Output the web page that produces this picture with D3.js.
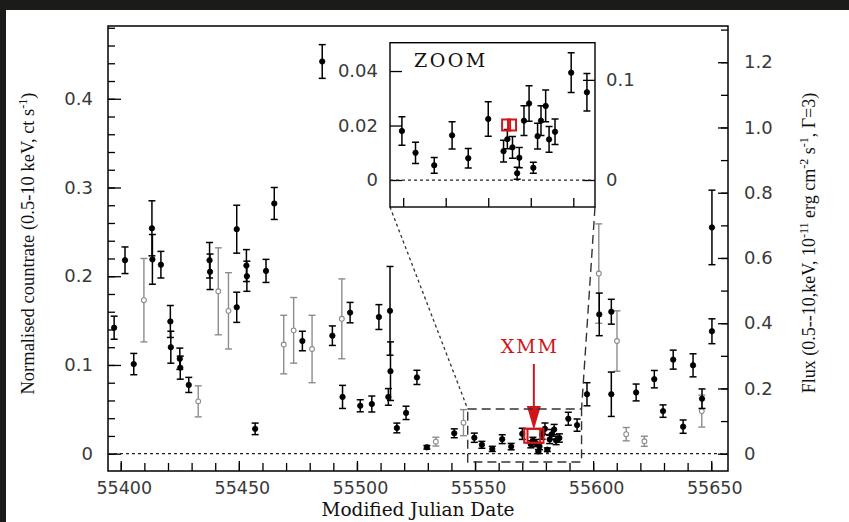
<!DOCTYPE html>
<html>
<head>
<meta charset="utf-8">
<script src="https://cdn.jsdelivr.net/npm/d3@7"></script>
<style>
  html, body { margin: 0; padding: 0; background: #fff; }
</style>
</head>
<body>
<div id="my_dataviz"></div>
<script>
// light curve, black = detections, grey = second instrument
const blackMjd = [55397.2, 55401.8, 55405.5, 55413.2, 55413.4, 55417.0, 55421.0, 55421.2, 55425.0, 55425.2,
  55428.8, 55437.6, 55437.8, 55449.1, 55449.1, 55453.2, 55453.4, 55456.9, 55461.5, 55465.0,
  55476.9, 55485.3, 55489.6, 55493.9, 55497.1, 55501.4, 55506.3, 55509.3, 55513.3, 55514.0,
  55514.2, 55516.9, 55520.8, 55525.4, 55529.6, 55541.2, 55549.7, 55552.9, 55557.3, 55561.5,
  55565.3, 55570.0, 55573.6, 55574.5, 55575.7, 55576.8, 55577.3, 55578.4, 55579.6, 55580.6,
  55581.6, 55582.4, 55583.5, 55584.3, 55585.7, 55589.5, 55593.2, 55597.4, 55602.6, 55607.7,
  55607.7, 55618.2, 55625.9, 55629.6, 55633.9, 55638.1, 55642.3, 55646.1, 55650.3, 55650.3];
const blackRate = [0.142, 0.218, 0.101, 0.254, 0.219, 0.213, 0.149, 0.120, 0.107, 0.097,
  0.0775, 0.218, 0.205, 0.253, 0.165, 0.212, 0.200, 0.028, 0.206, 0.282,
  0.127, 0.442, 0.133, 0.064, 0.159, 0.054, 0.056, 0.154, 0.064, 0.161,
  0.093, 0.029, 0.046, 0.086, 0.0072, 0.023, 0.0180, 0.0100, 0.0054, 0.0164,
  0.0080, 0.0224, 0.0106, 0.0150, 0.0120, 0.0025, 0.0082, 0.0218, 0.0281, 0.0045,
  0.0161, 0.0218, 0.0272, 0.0149, 0.0177, 0.0394, 0.0322, 0.067, 0.157, 0.160,
  0.067, 0.069, 0.084, 0.048, 0.106, 0.0305, 0.0996, 0.062, 0.138, 0.255];
const blackErr = [0.013, 0.015, 0.012, 0.031, 0.028, 0.015, 0.018, 0.018, 0.012, 0.013,
  0.0085, 0.020, 0.020, 0.027, 0.017, 0.018, 0.017, 0.0065, 0.013, 0.018,
  0.011, 0.019, 0.011, 0.013, 0.0115, 0.0068, 0.009, 0.014, 0.0094, 0.050,
  0.033, 0.0055, 0.0075, 0.008, 0.002, 0.005, 0.0052, 0.0039, 0.0029, 0.005,
  0.0036, 0.0063, 0.004, 0.0035, 0.004, 0.0022, 0.0037, 0.0055, 0.0065, 0.002,
  0.0047, 0.0055, 0.0058, 0.0047, 0.0047, 0.0073, 0.0069, 0.013, 0.024, 0.014,
  0.025, 0.0095, 0.0098, 0.007, 0.0107, 0.0075, 0.013, 0.011, 0.014, 0.042];

const greyMjd = [55409.8, 55432.8, 55441.3, 55445.6, 55469.0, 55473.2, 55481.0, 55493.6,
  55533.4, 55545.1, 55602.4, 55610.1, 55614.0, 55621.7, 55646.0];
const greyRate = [0.173, 0.059, 0.183, 0.161, 0.123, 0.139, 0.118, 0.152,
  0.0136, 0.035, 0.203, 0.127, 0.022, 0.014, 0.048];
const greyErr = [0.047, 0.0175, 0.049, 0.043, 0.033, 0.037, 0.038, 0.045,
  0.005, 0.0147, 0.056, 0.034, 0.0075, 0.0057, 0.018];

const xmmMjd = [55574.2, 55575.6];
const xmmRate = [0.0202, 0.0202];

const xTicks = [55400, 55450, 55500, 55550, 55600, 55650];
const yTicks = [0, 0.1, 0.2, 0.3, 0.4];
const fluxTicks = [0, 0.2, 0.4, 0.6, 0.8, 1.0, 1.2];
const insetYTicks = [0, 0.02, 0.04];
const insetFluxTicks = [0, 0.1];
const insetXTicks = [55550, 55560, 55570, 55580, 55590];
const fluxPerRate = 2.72;

const black = blackMjd.map(function(d, i) { return {x: d, y: blackRate[i], e: blackErr[i]}; });
const grey = greyMjd.map(function(d, i) { return {x: d, y: greyRate[i], e: greyErr[i]}; });
const xmm = xmmMjd.map(function(d, i) { return {x: d, y: xmmRate[i]}; });

var W = 849, H = 522;
var box = {left: 108, right: 728, top: 26, bottom: 471};
var ibox = {left: 390, right: 595, top: 42.7, bottom: 207};
var red = "#d0161b";
var tickFont = "'DejaVu Sans', sans-serif";
var serif = "'Liberation Serif', 'Times New Roman', serif";
var wideSerif = "'DejaVu Serif', serif";

var svg = d3.select("#my_dataviz").append("svg")
  .attr("width", W).attr("height", H);

svg.append("rect").attr("width", W).attr("height", H).attr("fill", "#fff");
// dark frame of the screenshot
svg.append("rect").attr("x", 0).attr("y", 0).attr("width", W).attr("height", 10).attr("fill", "#1b1b19");
svg.append("rect").attr("x", 0).attr("y", 0).attr("width", 6).attr("height", H).attr("fill", "#1b1b19");

var x = d3.scaleLinear().domain([55394.6, 55657.1]).range([box.left, box.right]);
var y = d3.scaleLinear().domain([-0.0195, 0.482]).range([box.bottom, box.top]);
var yFlux = d3.scaleLinear().domain(y.domain().map(function(v) { return v * fluxPerRate; })).range([box.bottom, box.top]);

function styleAxis(g, size) {
  g.select(".domain").remove();
  g.selectAll("line").attr("stroke", "#000").attr("stroke-width", 1.3);
  g.selectAll("text").attr("font-family", tickFont).attr("font-size", size).attr("fill", "#3a3a3a");
}

// main axes, ticks pointing inwards
svg.append("g").attr("transform", "translate(" + box.left + ",0)")
  .call(d3.axisLeft(y).tickValues(d3.range(0, 0.481, 0.02)).tickFormat("").tickSize(-7).tickSizeOuter(0))
  .call(styleAxis, 18);
svg.append("g").attr("transform", "translate(" + box.left + ",0)")
  .call(d3.axisLeft(y).tickValues(yTicks).tickFormat(function(d) { return d === 0 ? "0" : d3.format(".1f")(d); })
    .tickSize(-13).tickPadding(15).tickSizeOuter(0))
  .call(styleAxis, 18);

svg.append("g").attr("transform", "translate(" + box.right + ",0)")
  .call(d3.axisRight(yFlux).tickValues(d3.range(0, 1.31, 0.1)).tickFormat("").tickSize(-7).tickSizeOuter(0))
  .call(styleAxis, 18);
svg.append("g").attr("transform", "translate(" + box.right + ",0)")
  .call(d3.axisRight(yFlux).tickValues(fluxTicks).tickFormat(function(d) { return d === 0 ? "0" : d3.format(".1f")(d); })
    .tickSize(-10).tickPadding(16).tickSizeOuter(0))
  .call(styleAxis, 18);

svg.append("g").attr("transform", "translate(0," + box.bottom + ")")
  .call(d3.axisBottom(x).tickValues(d3.range(55400, 55651, 10)).tickFormat("").tickSize(-8).tickSizeOuter(0))
  .call(styleAxis, 18);
svg.append("g").attr("transform", "translate(0," + box.bottom + ")")
  .call(d3.axisBottom(x).tickValues(xTicks).tickFormat(d3.format("d")).tickSize(-10).tickPadding(11).tickSizeOuter(0))
  .call(styleAxis, 17.5)
  .selectAll("text").attr("dx", 3);

svg.append("rect")
  .attr("x", box.left).attr("y", box.top)
  .attr("width", box.right - box.left).attr("height", box.bottom - box.top)
  .attr("fill", "none").attr("stroke", "#000").attr("stroke-width", 1.5);

// zero line
svg.append("line")
  .attr("x1", box.left).attr("x2", box.right).attr("y1", y(0)).attr("y2", y(0))
  .attr("stroke", "#222").attr("stroke-width", 1.2).attr("stroke-dasharray", "3,3");

// axis titles
var lt = svg.append("text")
  .attr("transform", "translate(34,243.5) rotate(-90)")
  .attr("text-anchor", "middle").attr("font-family", serif).attr("font-size", 18.5).attr("fill", "#111");
lt.append("tspan").text("Normalised countrate (0.5-10 keV, ct s");
lt.append("tspan").attr("dy", -7).attr("font-size", 12).text("-1");
lt.append("tspan").attr("dy", 7).text(")");

var rt = svg.append("text")
  .attr("transform", "translate(815,243) rotate(-90)")
  .attr("text-anchor", "middle").attr("font-family", serif).attr("font-size", 18).attr("fill", "#111");
rt.append("tspan").text("Flux (0.5--10,keV, 10");
rt.append("tspan").attr("dy", -7).attr("font-size", 12).text("-11");
rt.append("tspan").attr("dy", 7).text(" erg cm");
rt.append("tspan").attr("dy", -7).attr("font-size", 12).text("-2");
rt.append("tspan").attr("dy", 7).text(" s");
rt.append("tspan").attr("dy", -7).attr("font-size", 12).text("-1");
rt.append("tspan").attr("dy", 7).text(", \u0393=3)");

svg.append("text")
  .attr("x", (box.left + box.right) / 2).attr("y", 516)
  .attr("text-anchor", "middle").attr("font-family", wideSerif).attr("font-size", 18.5).attr("fill", "#111")
  .text("Modified Julian Date");

function drawPoints(g, data, xs, ys, color, width, cap, filled, r) {
  var pts = g.append("g").selectAll("g").data(data).enter().append("g");
  pts.append("line")
    .attr("x1", function(d) { return xs(d.x); }).attr("x2", function(d) { return xs(d.x); })
    .attr("y1", function(d) { return ys(d.y - d.e); }).attr("y2", function(d) { return ys(d.y + d.e); })
    .attr("stroke", color).attr("stroke-width", width);
  [-1, 1].forEach(function(s) {
    pts.append("line")
      .attr("x1", function(d) { return xs(d.x) - cap; }).attr("x2", function(d) { return xs(d.x) + cap; })
      .attr("y1", function(d) { return ys(d.y + s * d.e); }).attr("y2", function(d) { return ys(d.y + s * d.e); })
      .attr("stroke", color).attr("stroke-width", width);
  });
  pts.append("circle")
    .attr("cx", function(d) { return xs(d.x); }).attr("cy", function(d) { return ys(d.y); })
    .attr("r", r)
    .attr("fill", filled ? color : "#fff")
    .attr("stroke", color).attr("stroke-width", filled ? 0.8 : 1.1);
}

drawPoints(svg, grey, x, y, "#8c8c8c", 1.4, 3.5, false, 2.4);
drawPoints(svg, black, x, y, "#000", 1.5, 3.5, true, 2.7);

svg.append("g").selectAll("rect").data(xmm).enter().append("rect")
  .attr("x", function(d) { return x(d.x) - 8; }).attr("y", function(d) { return y(d.y) - 7; })
  .attr("width", 16).attr("height", 14)
  .attr("fill", "none").attr("stroke", red).attr("stroke-width", 2);

// XMM label and arrow
var xmmX = x(d3.mean(xmmMjd));
svg.append("text")
  .attr("x", xmmX - 4).attr("y", 353)
  .attr("text-anchor", "middle").attr("font-family", wideSerif).attr("font-size", 19)
  .attr("letter-spacing", 2).attr("fill", red).text("XMM");
svg.append("line")
  .attr("x1", xmmX).attr("x2", xmmX).attr("y1", 364).attr("y2", 410)
  .attr("stroke", red).attr("stroke-width", 2);
svg.append("path")
  .attr("d", "M" + (xmmX - 7) + ",406 L" + (xmmX + 7) + ",406 L" + xmmX + "," + (y(xmmRate[0]) - 6) + " Z")
  .attr("fill", red);

// zoom region box and connectors
var zx0 = 55546.9, zx1 = 55595.1;
svg.append("rect")
  .attr("x", x(zx0)).attr("y", 409)
  .attr("width", x(zx1) - x(zx0)).attr("height", 462 - 409)
  .attr("fill", "none").attr("stroke", "#333").attr("stroke-width", 1.4).attr("stroke-dasharray", "9,5");
svg.append("line")
  .attr("x1", ibox.left).attr("y1", ibox.bottom).attr("x2", x(zx0)).attr("y2", 409)
  .attr("stroke", "#333").attr("stroke-width", 1.3).attr("stroke-dasharray", "3,3");
svg.append("line")
  .attr("x1", ibox.right).attr("y1", ibox.bottom).attr("x2", x(zx1)).attr("y2", 409)
  .attr("stroke", "#333").attr("stroke-width", 1.4).attr("stroke-dasharray", "9,5");

// inset
var xi = d3.scaleLinear().domain([zx0, zx1]).range([ibox.left, ibox.right]);
var yi = d3.scaleLinear().domain([-0.0099, 0.0504]).range([ibox.bottom, ibox.top]);
var yiFlux = d3.scaleLinear().domain(yi.domain().map(function(v) { return v * fluxPerRate; })).range([ibox.bottom, ibox.top]);

svg.append("rect")
  .attr("x", ibox.left).attr("y", ibox.top)
  .attr("width", ibox.right - ibox.left).attr("height", ibox.bottom - ibox.top)
  .attr("fill", "#fff").attr("stroke", "#000").attr("stroke-width", 1.4);

svg.append("g").attr("transform", "translate(" + ibox.left + ",0)")
  .call(d3.axisLeft(yi).tickValues(insetYTicks).tickFormat(function(d) { return d === 0 ? "0" : d3.format(".2f")(d); })
    .tickSize(-12).tickPadding(12).tickSizeOuter(0))
  .call(styleAxis, 18);
svg.append("g").attr("transform", "translate(" + ibox.right + ",0)")
  .call(d3.axisRight(yiFlux).tickValues(insetFluxTicks).tickFormat(function(d) { return d === 0 ? "0" : d3.format(".1f")(d); })
    .tickSize(-12).tickPadding(11).tickSizeOuter(0))
  .call(styleAxis, 18);
svg.append("g").attr("transform", "translate(0," + ibox.bottom + ")")
  .call(d3.axisBottom(xi).tickValues(insetXTicks).tickFormat("").tickSize(-9).tickSizeOuter(0))
  .call(styleAxis, 18);

svg.append("line")
  .attr("x1", ibox.left).attr("x2", ibox.right).attr("y1", yi(0)).attr("y2", yi(0))
  .attr("stroke", "#222").attr("stroke-width", 1.2).attr("stroke-dasharray", "3,3");

svg.append("defs").append("clipPath").attr("id", "insetClip").append("rect")
  .attr("x", ibox.left).attr("y", ibox.top)
  .attr("width", ibox.right - ibox.left).attr("height", ibox.bottom - ibox.top);
var ig = svg.append("g").attr("clip-path", "url(#insetClip)");

drawPoints(ig, black.filter(function(d) { return d.x > zx0 && d.x < zx1; }), xi, yi, "#000", 1.5, 3.5, true, 2.7);

ig.append("g").selectAll("rect").data(xmm).enter().append("rect")
  .attr("x", function(d) { return xi(d.x) - 4; }).attr("y", function(d) { return yi(d.y) - 5.5; })
  .attr("width", 8).attr("height", 11)
  .attr("fill", "none").attr("stroke", red).attr("stroke-width", 2);

svg.append("text")
  .attr("x", 414).attr("y", 67)
  .attr("font-family", wideSerif).attr("font-size", 19).attr("letter-spacing", 2.5)
  .attr("fill", "#111").text("ZOOM");
</script>
</body>
</html>
